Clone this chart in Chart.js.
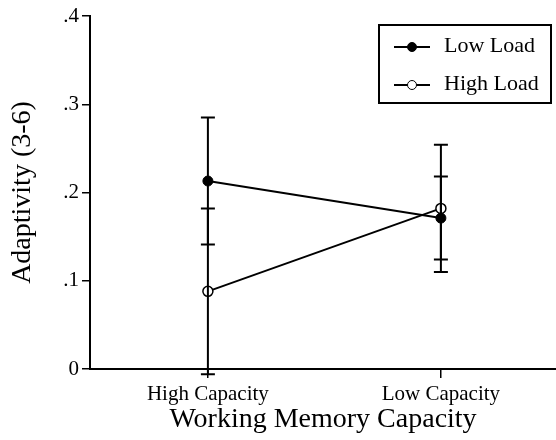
<!DOCTYPE html>
<html lang="en">
<head>
  <meta charset="UTF-8">
  <title>Adaptivity by Working Memory Capacity</title>
  <script src="https://cdn.jsdelivr.net/npm/chart.js"></script>
  <style>
    body { margin: 0; background: #fff; font-family: "Liberation Serif", "Times New Roman", serif; }
    .wrap { position: relative; width: 556px; height: 440px; }
    canvas { display: block; }
    .legend { position: absolute; left: 378px; top: 24px; width: 174px; height: 80px; border: 2px solid #000; box-sizing: border-box; }
    .item { position: absolute; left: 14px; height: 22px; font-size: 22px; line-height: 22px; color: #000; }
    .item .line { position: absolute; left: 0; top: 11px; width: 36px; height: 2px; background: #000; }
    .item .dot { position: absolute; left: 13px; top: 7px; width: 10px; height: 10px; border-radius: 50%; box-sizing: border-box; border: 1.5px solid #000; background: #fff; }
    .item .dot.filled { background: #000; }
    .item span.txt { position: absolute; left: 50px; white-space: nowrap; top: -1px; }
  </style>
</head>
<body>
  <div class="wrap">
    <canvas id="chart" width="556" height="440"></canvas>
    <div class="legend" id="legend"></div>
  </div>

  <script>
    // categories on the x axis
    const categories = ["High Capacity", "Low Capacity"];
    // means
    const lowLoad = [0.213, 0.171];
    const highLoad = [0.088, 0.182];
    // error bar half-widths
    const lowLoadErr = [0.072, 0.047];
    const highLoadErr = [0.094, 0.072];
    const yTickLabels = { 0: "0", 1: ".1", 2: ".2", 3: ".3", 4: ".4" };

    const serif = "'Liberation Serif', 'Times New Roman', serif";

    const errorBars = {
      id: "errorBars",
      afterDatasetsDraw(chart) {
        const ctx = chart.ctx;
        const x = chart.scales.x, y = chart.scales.y;
        const errs = [lowLoadErr, highLoadErr];
        ctx.save();
        ctx.strokeStyle = "#000";
        ctx.lineWidth = 2;
        chart.data.datasets.forEach((ds, d) => {
          ds.data.forEach((pt, i) => {
            const px = x.getPixelForValue(pt.x);
            const top = y.getPixelForValue(pt.y + errs[d][i]);
            const bot = y.getPixelForValue(pt.y - errs[d][i]);
            ctx.beginPath();
            ctx.moveTo(px, top); ctx.lineTo(px, bot);
            ctx.moveTo(px - 7, top); ctx.lineTo(px + 7, top);
            ctx.moveTo(px - 7, bot); ctx.lineTo(px + 7, bot);
            ctx.stroke();
          });
        });
        ctx.restore();
      }
    };

    new Chart(document.getElementById("chart"), {
      type: "line",
      data: {
        datasets: [
          {
            label: "Low Load",
            data: lowLoad.map((v, i) => ({ x: i, y: v })),
            borderColor: "#000", borderWidth: 2,
            pointRadius: 5, pointBackgroundColor: "#000", pointBorderColor: "#000", pointBorderWidth: 1
          },
          {
            label: "High Load",
            data: highLoad.map((v, i) => ({ x: i, y: v })),
            borderColor: "#000", borderWidth: 2,
            pointRadius: 5, pointBackgroundColor: "#fff", pointBorderColor: "#000", pointBorderWidth: 1.5
          }
        ]
      },
      options: {
        responsive: false,
        animation: false,
        layout: { autoPadding: false, padding: { top: 16, right: 0, left: 0, bottom: 0 } },
        plugins: { legend: { display: false }, tooltip: { enabled: false } },
        scales: {
          x: {
            type: "linear",
            min: -0.506, max: 1.494,
            afterBuildTicks: s => { s.ticks = categories.map((c, i) => ({ value: i })); },
            afterFit: s => { s.height = 71; },
            grid: { display: true, drawOnChartArea: false, drawTicks: true, tickLength: 9, color: "#000", lineWidth: 1.5 },
            border: { display: true, color: "#000", width: 2 },
            ticks: {
              color: "#000", padding: 4, maxRotation: 0,
              font: { family: serif, size: 21 },
              callback: v => categories[v]
            },
            title: {
              display: true, text: "Working Memory Capacity", color: "#000",
              font: { family: serif, size: 28 }, padding: { top: 0, bottom: 4 }
            }
          },
          y: {
            min: 0, max: 0.4,
            afterBuildTicks: s => { s.ticks = [0, 1, 2, 3, 4].map(k => ({ value: k / 10 })); },
            afterFit: s => { s.width = 90; },
            grid: { display: true, drawOnChartArea: false, drawTicks: true, tickLength: 8, color: "#000", lineWidth: 1.5 },
            border: { display: true, color: "#000", width: 2 },
            ticks: {
              color: "#000", padding: 3,
              font: { family: serif, size: 21 },
              callback: v => yTickLabels[Math.round(v * 10)]
            },
            title: {
              display: true, text: "Adaptivity (3-6)", color: "#000",
              font: { family: serif, size: 28 }, padding: { top: 6, bottom: 0 }
            }
          }
        }
      },
      plugins: [errorBars]
    });

    // legend box
    const legend = document.getElementById("legend");
    [["Low Load", true, 9], ["High Load", false, 47]].forEach(([name, filled, top]) => {
      const item = document.createElement("div");
      item.className = "item";
      item.style.top = top + "px";
      item.innerHTML = `<div class="line"></div><div class="dot${filled ? " filled" : ""}"></div><span class="txt">${name}</span>`;
      legend.appendChild(item);
    });
  </script>
</body>
</html>
